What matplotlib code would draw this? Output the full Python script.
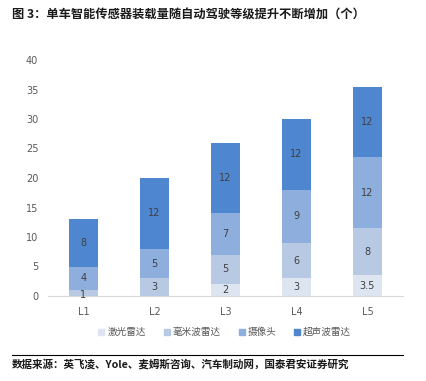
import matplotlib
matplotlib.use("Agg")
import matplotlib.pyplot as plt
from matplotlib.lines import Line2D
import numpy as np

plt.rcParams['font.family'] = ['Noto Sans CJK SC', 'DejaVu Sans']

levels = ["L1", "L2", "L3", "L4", "L5"]
series_names = ["激光雷达", "毫米波雷达", "摄像头", "超声波雷达"]
lidar = [0, 0, 2, 3, 3.5]
mmwave = [1, 3, 5, 6, 8]
camera = [4, 5, 7, 9, 12]
ultrasonic = [8, 12, 12, 12, 12]
yticks = [0, 5, 10, 15, 20, 25, 30, 35, 40]

colors = ["#dde5f1", "#b7c9e3", "#8eaedd", "#4f86d0"]
W, H = 427, 381
fig = plt.figure(figsize=(W / 100, H / 100), dpi=100)
ax = fig.add_axes([48 / W, 85 / H, (403 - 48) / W, (296 - 60) / H])

x = np.arange(len(levels))
bottom = np.zeros(len(levels))
data = [lidar, mmwave, camera, ultrasonic]
for vals, c, name in zip(data, colors, series_names):
    vals = np.array(vals, dtype=float)
    ax.bar(x, vals, bottom=bottom, width=0.41, color=c, label=name, zorder=2)
    for xi, v, b in zip(x, vals, bottom):
        if v > 0:
            ypos = b + v / 2
            if v < 1.5:
                ypos = b + v / 2 - 0.4
            ax.text(xi, ypos, f"{v:g}", ha="center", va="center",
                    fontsize=7, color="#404040", family="DejaVu Sans", zorder=3)
    bottom += vals

ax.set_xlim(-0.5, len(levels) - 0.5)
ax.set_ylim(0, 40)
ax.set_yticks(yticks)
ax.set_xticks(x)
ax.set_xticklabels(levels)
ax.tick_params(length=0, labelsize=7, colors="#595959")
ax.tick_params(axis="y", pad=7)
ax.tick_params(axis="x", pad=8)
for lab in ax.get_xticklabels() + ax.get_yticklabels():
    lab.set_family("DejaVu Sans")
for s in ["top", "right", "left"]:
    ax.spines[s].set_visible(False)
ax.spines["bottom"].set_color("#d9d9d9")

handles = [Line2D([], [], marker="s", linestyle="none", markersize=4,
                  markerfacecolor=c, markeredgecolor=c) for c in colors]
fig.legend(handles, series_names, loc="center", bbox_to_anchor=(224 / W, 1 - 332 / H),
           ncol=4, frameon=False, fontsize=6.9, handletextpad=0.1, columnspacing=1.7,
           handlelength=1.0, labelcolor="#595959")

fig.text(12 / W, 1 - 14 / H, "图 3：单车智能传感器装载量随自动驾驶等级提升不断增加（个）",
         fontsize=8.8, fontweight="bold", va="center", ha="left", color="#1a1a1a")
fig.add_artist(Line2D([12 / W, 403 / W], [1 - 355 / H, 1 - 355 / H], color="black", lw=0.8))
fig.text(12 / W, 1 - 364 / H, "数据来源：英飞凌、Yole、麦姆斯咨询、汽车制动网，国泰君安证券研究",
         fontsize=7.6, fontweight="bold", va="center", ha="left", color="#1a1a1a")

fig.savefig("out.png", dpi=100)
